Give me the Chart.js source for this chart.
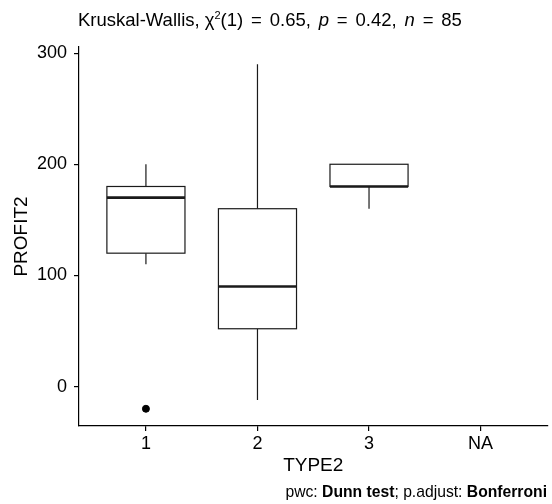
<!DOCTYPE html>
<html>
<head>
<meta charset="utf-8">
<script src="https://cdn.jsdelivr.net/npm/chart.js@4"></script>
<style>
  html, body { margin: 0; padding: 0; background: #fff; }
  #wrap { position: relative; width: 552px; height: 504px; font-family: "Liberation Sans", Arial, sans-serif; color: #000; }
  #c { position: absolute; left: 0; top: 0; }
  .txt { position: absolute; white-space: nowrap; }
  #title { left: 78px; top: 9px; font-size: 18.5px; }
  #title .eq { word-spacing: 2.7px; }
  #caption { right: 5px; top: 483px; font-size: 15.7px; }
</style>
</head>
<body>
<div id="wrap">
  <canvas id="c" width="552" height="504"></canvas>
  <div id="title" class="txt">Kruskal-Wallis, χ<sup style="font-size:11px">2</sup>(1)<span class="eq"> = 0.65, <i>p</i> = 0.42, <i>n</i> = 85</span></div>
  <div id="caption" class="txt">pwc: <b>Dunn test</b>; p.adjust: <b>Bonferroni</b></div>
</div>
<script>
/* --- data --- */
const categories = ['1', '2', '3', 'NA'];
const xPositions = [1, 2, 3, 4];
const boxLower  = [110, -12, 160];   // lower whisker end
const boxQ1     = [120,  52, 180];
const boxMedian = [170,  90, 180];
const boxQ3     = [180, 160, 200];
const boxUpper  = [200, 290, 200];   // upper whisker end
const outlierX  = [1];
const outlierY  = [-20];
const yTicks = [0, 100, 200, 300];

const BOX_WIDTH = 0.7; // in category units, like ggboxplot

/* boxes + whiskers drawn with the chart's own scales */
const boxPlugin = {
  id: 'boxes',
  beforeDatasetsDraw(chart) {
    const { ctx, scales: { x, y } } = chart;
    ctx.save();
    ctx.strokeStyle = '#1a1a1a';
    for (let i = 0; i < boxQ1.length; i++) {
      const cx = x.getPixelForValue(xPositions[i]);
      const x0 = x.getPixelForValue(xPositions[i] - BOX_WIDTH / 2);
      const x1 = x.getPixelForValue(xPositions[i] + BOX_WIDTH / 2);
      const yQ1 = y.getPixelForValue(boxQ1[i]);
      const yQ3 = y.getPixelForValue(boxQ3[i]);
      // whiskers
      ctx.lineWidth = 1.2;
      ctx.beginPath();
      ctx.moveTo(cx, yQ3); ctx.lineTo(cx, y.getPixelForValue(boxUpper[i]));
      ctx.moveTo(cx, yQ1); ctx.lineTo(cx, y.getPixelForValue(boxLower[i]));
      ctx.stroke();
      // box
      ctx.fillStyle = '#fff';
      ctx.fillRect(x0, yQ3, x1 - x0, yQ1 - yQ3);
      ctx.strokeRect(x0, yQ3, x1 - x0, yQ1 - yQ3);
      // median
      ctx.lineWidth = 2.6;
      ctx.beginPath();
      const ym = y.getPixelForValue(boxMedian[i]);
      ctx.moveTo(x0, ym); ctx.lineTo(x1, ym);
      ctx.stroke();
    }
    ctx.restore();
  }
};

const tickFont = { family: '"Liberation Sans", Arial, sans-serif', size: 18 };

new Chart(document.getElementById('c'), {
  type: 'scatter',
  data: {
    datasets: [{
      data: outlierX.map((v, i) => ({ x: v, y: outlierY[i] })),
      pointRadius: 3.5,
      pointBackgroundColor: '#000',
      pointBorderColor: '#000',
      pointHoverRadius: 3.5
    }]
  },
  options: {
    responsive: false,
    devicePixelRatio: 1,
    animation: false,
    layout: { padding: { top: 47, left: 7, right: 3, bottom: 24 } },
    plugins: { legend: { display: false }, tooltip: { enabled: false } },
    scales: {
      x: {
        type: 'linear',
        min: 0.4,
        max: 4.6,
        afterBuildTicks: s => { s.ticks = xPositions.map(v => ({ value: v })); },
        afterFit: s => { s.height = 54; },
        ticks: {
          callback: v => categories[xPositions.indexOf(v)],
          font: tickFont, color: '#000', padding: 2, maxRotation: 0
        },
        grid: { drawOnChartArea: false, drawTicks: true, tickLength: 5, color: '#000', lineWidth: 1.2 },
        border: { display: true, color: '#000', width: 1.2 },
        title: { display: true, text: 'TYPE2', font: { ...tickFont, size: 19 }, color: '#000', padding: { top: 0, bottom: 3 } }
      },
      y: {
        type: 'linear',
        min: -35.5,
        max: 305.5,
        afterBuildTicks: s => { s.ticks = yTicks.map(v => ({ value: v })); },
        afterFit: s => { s.width = 72; },
        ticks: { font: tickFont, color: '#000', padding: 7 },
        grid: { drawOnChartArea: false, drawTicks: true, tickLength: 5, color: '#000', lineWidth: 1.2 },
        border: { display: true, color: '#000', width: 1.2 },
        title: { display: true, text: 'PROFIT2', font: { ...tickFont, size: 19 }, color: '#000', padding: { top: 3, bottom: 0 } }
      }
    }
  },
  plugins: [boxPlugin]
});
</script>
</body>
</html>
